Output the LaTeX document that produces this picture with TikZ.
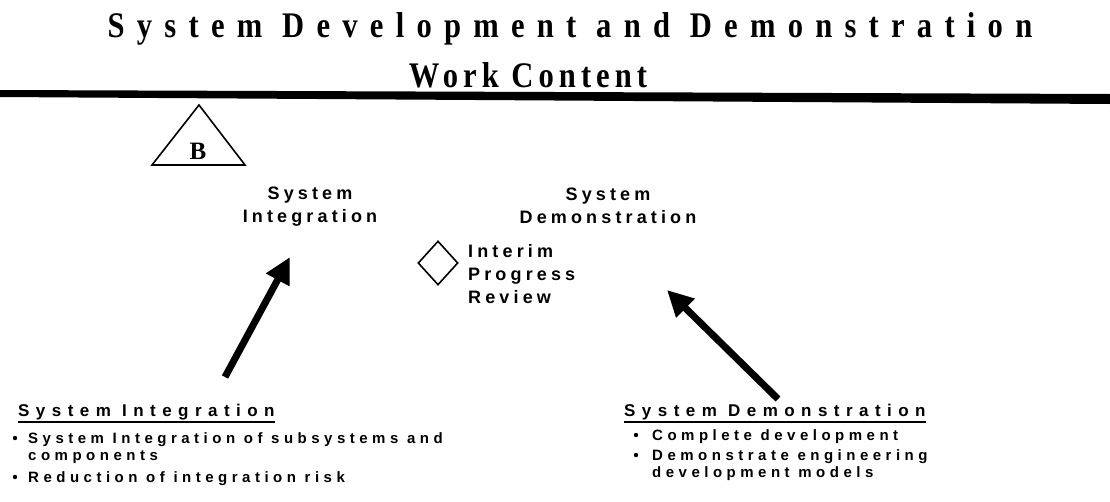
\documentclass[tikz,border=0pt]{standalone}
\usepackage{fontspec}
\setmainfont{Liberation Sans}
\newfontfamily\titlefont[FakeStretch=0.85,LetterSpace=34]{Liberation Serif Bold}
\newfontfamily\subtitlefont[FakeStretch=0.85,LetterSpace=14]{Liberation Serif Bold}
\newfontfamily\markfont{Liberation Serif Bold}
\newfontfamily\labelfont[LetterSpace=23]{Liberation Sans Bold}
\newfontfamily\headfont[LetterSpace=38]{Liberation Sans Bold}
\newfontfamily\listfont[LetterSpace=30]{Liberation Sans Bold}
\usetikzlibrary{arrows.meta,shapes.geometric}

\begin{document}
\begin{tikzpicture}[x=1pt,y=-1pt,>={Triangle[length=26pt,width=25pt]},
  title/.style={inner sep=0,anchor=base,font=\titlefont\fontsize{36}{36}\selectfont},
  lbl/.style={inner sep=0,anchor=north,align=center,font=\labelfont\fontsize{18}{23}\selectfont},
  head/.style={inner sep=0,anchor=base west,font=\headfont\fontsize{17}{20}\selectfont},
  item/.style={inner sep=0,anchor=north west,align=left,font=\listfont\fontsize{15}{17}\selectfont},
  bigarrow/.style={->,line width=7pt}]
\useasboundingbox (0,0) rectangle (1110,501);
\node[title] (t1) at (570,37) {System Development and Demonstration};
\node[title,font=\subtitlefont\fontsize{36}{36}\selectfont] (t2) at (528,87) {Work Content};
\fill (0,90) -- (1110,94) -- (1110,104) -- (0,97) -- cycle;

\draw[line width=1.6pt,line join=miter] (199,105) -- (152,165) -- (245,165) -- cycle;
\node[inner sep=0,font=\markfont\fontsize{25}{25}\selectfont] (b) at (198,151) {B};

\node[lbl] (integ) at (310,187) {System\\Integration};
\node[lbl] (demo) at (608,188) {System\\Demonstration};
\node[draw,diamond,line width=1.6pt,minimum width=40pt,minimum height=44pt,inner sep=0] (ipr) at (438,263) {};
\node[lbl,anchor=north west,align=left] (iprtext) at (468,244) {Interim\\Progress\\Review};

\coordinate (integtail) at (225,377);
\coordinate (integtip) at (290,257);
\coordinate (demotail) at (778,399);
\coordinate (demotip) at (667,290);
\draw[bigarrow] (integtail) -- (integtip);
\draw[bigarrow] (demotail) -- (demotip);

\node[head] (hi) at (18,416) {System Integration};
\node[head] (hd) at (624,416) {System Demonstration};
\draw[line width=2pt] ([yshift=-6pt]hi.base west) -- ([yshift=-6pt]hi.base east);
\draw[line width=2pt] ([yshift=-6pt]hd.base west) -- ([yshift=-6pt]hd.base east);

\node[item] (i1) at (28,432) {System Integration of subsystems and\\components};
\node[item] (i2) at (28,471) {Reduction of integration risk};
\node[item] (d1) at (652,429) {Complete development};
\node[item] (d2) at (652,449) {Demonstrate engineering\\development models};
\foreach \n/\dx in {i1/13,i2/13,d1/16,d2/16}
  \fill ([xshift=-\dx pt,yshift=-6pt]\n.north west) circle (2.2pt);
\end{tikzpicture}
\end{document}
